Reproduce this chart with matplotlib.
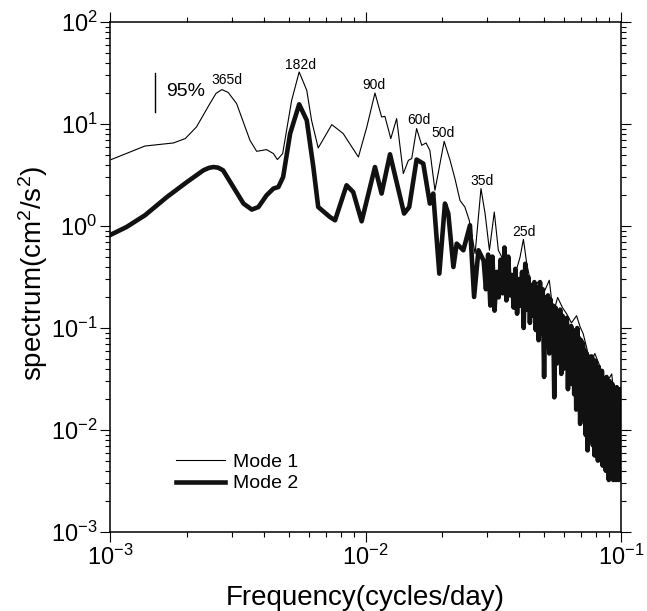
import numpy as np
import matplotlib
matplotlib.use("Agg")
import matplotlib.pyplot as plt

plt.rcParams['font.family'] = ['Liberation Sans', 'DejaVu Sans']
plt.rcParams['mathtext.fontset'] = 'custom'
plt.rcParams['mathtext.rm'] = 'Liberation Sans'
plt.rcParams['mathtext.it'] = 'Liberation Sans'
plt.rcParams['mathtext.bf'] = 'Liberation Sans'
plt.rcParams['axes.unicode_minus'] = False

# ---------------- data ----------------
mode1_freq = [0.00101, 0.00137, 0.00177, 0.00197, 0.00218, 0.00246, 0.0026, 0.00274, 0.0029, 0.00313,
              0.00353, 0.00375, 0.0041, 0.00436, 0.00452, 0.00474, 0.00514, 0.0055,
              0.00589, 0.00615, 0.00653, 0.00738, 0.00818, 0.00938, 0.01012, 0.01089,
              0.01156, 0.01191, 0.01256, 0.01324, 0.01406, 0.01472, 0.01517, 0.01585,
              0.0166, 0.01726, 0.01786, 0.0187, 0.02032, 0.02143, 0.02239, 0.02344,
              0.02449, 0.02547, 0.02685, 0.02831, 0.02938, 0.03055, 0.03192, 0.03311,
              0.03573, 0.03793, 0.04027, 0.0415, 0.04276, 0.04467, 0.0470, 0.0497,
              0.0524, 0.0543, 0.0565, 0.0590, 0.0612, 0.0640, 0.0670, 0.0692,
              0.0711, 0.0735, 0.0757, 0.0790, 0.0828, 0.0860, 0.0891, 0.0920,
              0.0948, 0.0977, 0.1000]
mode1_log = [0.651, 0.784, 0.814, 0.857, 0.971, 1.2, 1.30, 1.337, 1.31, 1.2,
             0.84, 0.732, 0.749, 0.71, 0.651, 0.71, 1.232, 1.51,
             1.33, 1.036, 0.765, 0.994, 0.906, 0.676, 0.971, 1.304,
             1.069, 1.075, 0.857, 1.053, 0.514, 0.644, 0.661, 0.955,
             0.791, 0.814, 0.742, 0.35, 0.83, 0.644, 0.465, 0.25,
             0.186, 0.056, -0.271, 0.367, 0.122, -0.238, 0.137, -0.238,
             -0.402, -0.532, -0.304, -0.13, -0.369, -0.598, -0.55, -0.663,
             -0.532, -0.859, -0.70, -0.80, -0.859, -0.95, -0.88, -0.99,
             -1.055, -1.20, -1.35, -1.25, -1.38, -1.55, -1.51, -1.45,
             -1.77, -1.58, -2.1]

mode2_freq = [0.00101, 0.00116, 0.00137, 0.00167, 0.002, 0.00232, 0.00244, 0.00254, 0.00265, 0.00277,
              0.00304, 0.00333, 0.00359, 0.00381, 0.0041, 0.00436, 0.00456, 0.00476,
              0.00507, 0.0055, 0.00589, 0.00625, 0.00653, 0.00726, 0.0076, 0.00843,
              0.00895, 0.00966, 0.01089, 0.01156, 0.01247, 0.01416, 0.01483, 0.01585,
              0.01683, 0.01786, 0.01841, 0.01945, 0.02046, 0.02109, 0.02208, 0.02275,
              0.02415, 0.02564, 0.02661, 0.02767,
              0.0290, 0.0296, 0.0302, 0.0308, 0.0314, 0.0320, 0.0326, 0.0332, 0.0338, 0.0344,
              0.0350, 0.0356, 0.0362, 0.0368, 0.0374, 0.0380, 0.0386, 0.0392, 0.0398, 0.0404,
              0.0410, 0.0416, 0.0422, 0.0428, 0.0434, 0.0440, 0.0446, 0.0452, 0.0458, 0.0464,
              0.0470, 0.0476, 0.0482, 0.0488, 0.0494, 0.0500, 0.0506, 0.0512, 0.0518, 0.0524,
              0.0530, 0.0536, 0.0542, 0.0548, 0.0554, 0.0560, 0.0566, 0.0572, 0.0578, 0.0584,
              0.0590, 0.0596, 0.0602, 0.0608, 0.0614, 0.0620, 0.0626, 0.0632, 0.0638, 0.0644,
              0.0650, 0.0656, 0.0662, 0.0668, 0.0674, 0.0680, 0.0686, 0.0692, 0.0698, 0.0704,
              0.0710, 0.0716, 0.0722, 0.0728, 0.0734, 0.0740, 0.0746, 0.0752, 0.0758, 0.0764,
              0.0770, 0.0776, 0.0782, 0.0788, 0.0794, 0.0800, 0.0806, 0.0812, 0.0818, 0.0824,
              0.0830, 0.0836, 0.0842, 0.0848, 0.0854, 0.0860, 0.0866, 0.0872, 0.0878, 0.0884,
              0.0890, 0.0896, 0.0902, 0.0908, 0.0914, 0.0920, 0.0926, 0.0932, 0.0938, 0.0944,
              0.0950, 0.0956, 0.0962, 0.0968, 0.0974, 0.0980, 0.0986, 0.0992, 0.0998, 0.1000]
mode2_log = [-0.084, -0.01, 0.105, 0.284, 0.431, 0.546, 0.57, 0.578, 0.572, 0.546,
             0.382, 0.22, 0.161, 0.186, 0.301, 0.367, 0.382, 0.48,
             0.906, 1.193, 1.036, 0.578, 0.186, 0.088, 0.056, 0.399,
             0.333, 0.046, 0.578, 0.318, 0.703, 0.122, 0.186, 0.651,
             0.612, 0.22, 0.318, -0.467, 0.22, 0.122, -0.402, -0.173,
             -0.238, 0.007, -0.696, -0.238,
             -0.34, -0.62, -0.28, -0.78, -0.30, -0.83, -0.45, -0.70, -0.33, -0.66,
             -0.21, -0.73, -0.30, -0.68, -0.48, -0.80, -0.42, -0.86, -0.52, -0.78,
             -0.45, -1.00, -0.37, -0.82, -0.50, -0.95, -0.58, -0.88, -0.55, -1.02,
             -0.60, -1.12, -0.55, -1.05, -0.62, -1.48, -0.70, -1.15, -0.68, -1.25,
             -0.72, -1.20, -0.78, -1.68, -0.80, -1.35, -0.85, -1.30, -0.82, -1.45,
             -0.88, -1.40, -0.95, -1.30, -0.90, -1.60, -1.00, -1.45, -0.98, -1.55,
             -1.02, -1.65, -1.05, -1.80, -1.00, -1.70, -1.10, -1.94, -1.12, -1.75,
             -1.15, -1.90, -1.22, -2.05, -1.25, -2.20, -1.30, -1.95, -1.28, -2.10,
             -1.28, -2.15, -1.35, -2.25, -1.32, -2.05, -1.40, -2.30, -1.38, -2.20,
             -1.45, -2.30, -1.42, -2.35, -1.50, -2.20, -1.55, -2.40, -1.48, -2.30,
             -1.55, -2.49, -1.52, -2.35, -1.60, -2.45, -1.55, -2.49, -1.62, -2.40,
             -1.65, -2.49, -1.58, -2.45, -1.70, -2.49, -1.60, -2.40, -1.75, -2.17]

peak_labels = ["365d", "182d", "90d", "60d", "50d", "35d", "25d"]
peak_label_freq = [0.00288, 0.00558, 0.0108, 0.01618, 0.0201, 0.02857, 0.0417]
peak_label_val = [26.8, 37.6, 23.9, 10.9, 8.1, 2.74, 0.867]

ci_freq = 0.0015
ci_low, ci_high = 13.0, 31.4

# ---------------- figure ----------------
fig = plt.figure(figsize=(6.47, 6.11), dpi=100)
ax = fig.add_axes([110/647, (611-532)/611, 511/647, 510/611])

m1 = 10 ** np.array(mode1_log)
m2 = 10 ** np.array(mode2_log)
ax.plot(mode1_freq, m1, color='black', lw=0.8, label='Mode 1')
ax.plot(mode2_freq, m2, color='#111111', lw=3.3, label='Mode 2')

ax.set_xscale('log')
ax.set_yscale('log')
ax.set_xlim(1e-3, 1e-1)
ax.set_ylim(1e-3, 1e2)

for lab, f, v in zip(peak_labels, peak_label_freq, peak_label_val):
    ax.text(f, v, lab, fontsize=10, ha='center', va='center')

ax.plot([ci_freq, ci_freq], [ci_low, ci_high], color='black', lw=1.0)
ax.text(0.001656, 20.9, '95%', fontsize=14, ha='left', va='center')

for s in ax.spines.values():
    s.set_linewidth(1.1)
ax.tick_params(which='both', direction='out', top=True, right=True,
               labeltop=False, labelright=False, width=0.8)
ax.tick_params(which='major', length=7, labelsize=17, pad=2)
ax.tick_params(which='minor', length=3.5)
ax.xaxis.set_minor_locator(matplotlib.ticker.LogLocator(base=10, subs=np.arange(2, 10), numticks=20))
ax.yaxis.set_minor_locator(matplotlib.ticker.LogLocator(base=10, subs=np.arange(2, 10), numticks=20))
ax.xaxis.set_minor_formatter(matplotlib.ticker.NullFormatter())
ax.yaxis.set_minor_formatter(matplotlib.ticker.NullFormatter())

ax.set_xlabel('Frequency(cycles/day)', fontsize=20)
ax.set_ylabel('spectrum(cm$^2$/s$^2$)', fontsize=20)
ax.xaxis.set_label_coords(0.5, (532-598)/510)
ax.xaxis.label.set_va('center')
ax.yaxis.set_label_coords((33-110)/511, (532-273)/510)
ax.yaxis.label.set_va('center')
ax.yaxis.label.set_ha('center')

leg = ax.legend(loc='upper left', bbox_to_anchor=((176-110)/511, (532-453)/510),
                frameon=False, fontsize=14, handlelength=2.5, handletextpad=0.45,
                labelspacing=0.22, borderpad=0, borderaxespad=0)

fig.savefig('out.png', dpi=100)
